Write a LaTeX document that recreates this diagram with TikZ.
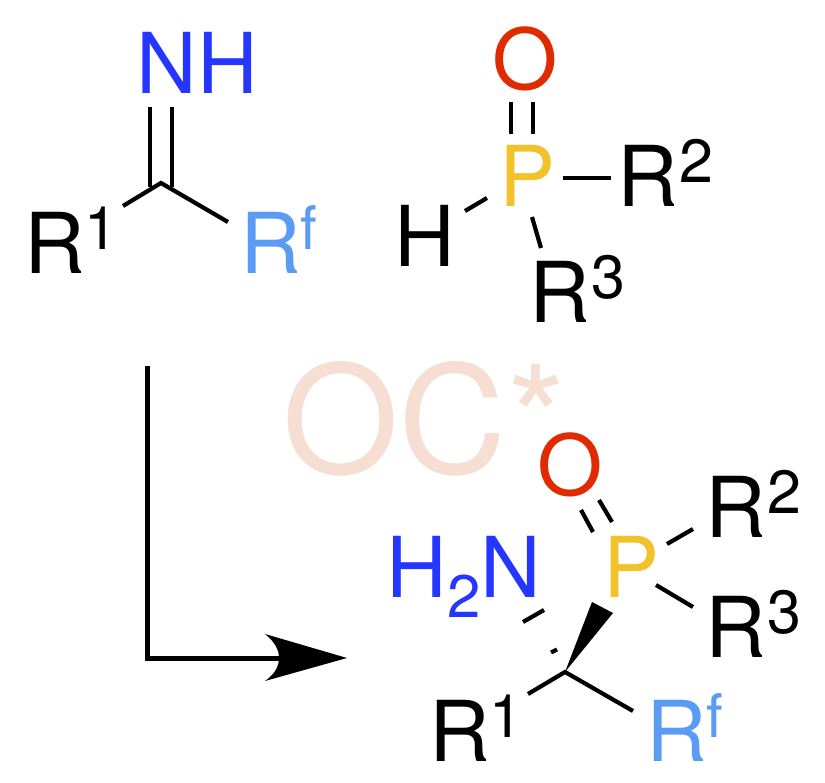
\documentclass[tikz,border=0pt]{standalone}
\usepackage{fontspec}
\setmainfont{TeX Gyre Heros}
\definecolor{nblue}{HTML}{2536FF}
\definecolor{oran}{HTML}{E02B00}
\definecolor{pyel}{HTML}{F2C22B}
\definecolor{rfb}{HTML}{5C9BF4}
\definecolor{ocw}{HTML}{F6DFD2}
\tikzset{x=1pt,y=-1pt,
 lab/.style={inner sep=0pt,font=\fontsize{84}{84}\selectfont,anchor=base west},
 bond/.style={line width=4.2pt,black},
 arrowline/.style={line width=5pt,black,line join=miter}}
\newcommand{\Sup}[1]{\raisebox{24pt}{\fontsize{60}{60}\selectfont #1}}
\newcommand{\SupW}[1]{\hspace{1.5pt}\raisebox{24pt}{\fontsize{61}{61}\selectfont #1}}
\newcommand{\Sub}[1]{\raisebox{-20pt}{\fontsize{60}{60}\selectfont #1}}
\begin{document}
\begin{tikzpicture}
\useasboundingbox (0,0) rectangle (825,783);
\fill[white] (0,0) rectangle (825,783);
% top left
\node[lab,text=nblue] (nh) at (136.5,94) {NH};
\node[lab] (r1) at (24,274) {R\Sup{1}};
\node[lab,text=rfb] (rf) at (240,274) {R\Sup{f}};
% top right
\node[lab,text=oran] (o1) at (492,90) {O};
\node[lab,text=pyel] (p1) at (499,207) {P};
\node[lab] (r2) at (617,207) {R\SupW{2}};
\node[lab] (h) at (394.5,267) {H};
\node[lab] (r3) at (529,323) {R\SupW{3}};
% catalyst
\node[lab,text=ocw,font=\fontsize{150}{150}\selectfont] (oc) at (282,474) {OC*};
% product
\node[lab,text=oran] (o2) at (537,495) {O};
\node[lab,text=pyel] (p2) at (603,597) {P};
\node[lab] (r22) at (705,537) {R\SupW{2}};
\node[lab] (r32) at (705,657) {R\SupW{3}};
\node[lab,text=nblue] (nh2) at (386.5,597) {H\Sub{2}N};
\node[lab] (r12) at (429,761) {R\Sup{1}};
\node[lab,text=rfb] (rf2) at (646,761) {R\Sup{f}};
% bond anchor points
\coordinate (c1) at (161,183);
\coordinate (c2) at (565,672);
\coordinate (imA1) at (150,107); \coordinate (imA2) at (150,187);
\coordinate (imB1) at (172,107); \coordinate (imB2) at (172,187);
\coordinate (r1e) at (123,206);
\coordinate (rfe) at (228,222);
\coordinate (poA1) at (511,102); \coordinate (poA2) at (511,134);
\coordinate (poB1) at (533,102); \coordinate (poB2) at (533,134);
\coordinate (p1r) at (563,178); \coordinate (r2e) at (611,178);
\coordinate (p1h) at (487,198); \coordinate (he) at (465,211);
\coordinate (p1d) at (532,217); \coordinate (r3e) at (541,248);
\coordinate (dbA1) at (581,510); \coordinate (dbA2) at (593,532);
\coordinate (dbB1) at (599,500); \coordinate (dbB2) at (612,522);
\coordinate (p2a) at (667,544); \coordinate (r22e) at (693,529);
\coordinate (p2b) at (656,585); \coordinate (r32e) at (693,607);
\coordinate (r12e) at (528,694);
\coordinate (rf2e) at (633,711);
\coordinate (wA) at (592,602); \coordinate (wB) at (613,613);
\coordinate (haA) at (523,622); \coordinate (haB) at (544,610);
\coordinate (hbA) at (551,652.5); \coordinate (hbB) at (557,649.5);
\coordinate (arS) at (147,366);
\coordinate (arC) at (147,658);
\coordinate (arE) at (285,658);
\coordinate (arT) at (347,658);
% bonds
\draw[bond] (imA1) -- (imA2);
\draw[bond] (imB1) -- (imB2);
\draw[bond,line join=miter] (r1e) -- (c1) -- (rfe);
\draw[bond] (poA1) -- (poA2);
\draw[bond] (poB1) -- (poB2);
\draw[bond] (p1r) -- (r2e);
\draw[bond] (p1h) -- (he);
\draw[bond] (p1d) -- (r3e);
\draw[bond] (dbA1) -- (dbA2);
\draw[bond] (dbB1) -- (dbB2);
\draw[bond] (p2a) -- (r22e);
\draw[bond] (p2b) -- (r32e);
\draw[bond,line join=miter] (r12e) -- (c2) -- (rf2e);
\fill (c2) -- (wA) -- (wB) -- cycle;
\draw[bond] (haA) -- (haB);
\draw[bond] (hbA) -- (hbB);
% arrow
\draw[arrowline] (arS) -- (arC) -- (arE);
\fill (arT) -- (265,634) .. controls (275,642) and (279,650) .. (279,658) .. controls (279,666) and (275,674) .. (265,681) -- cycle;
\end{tikzpicture}
\end{document}
